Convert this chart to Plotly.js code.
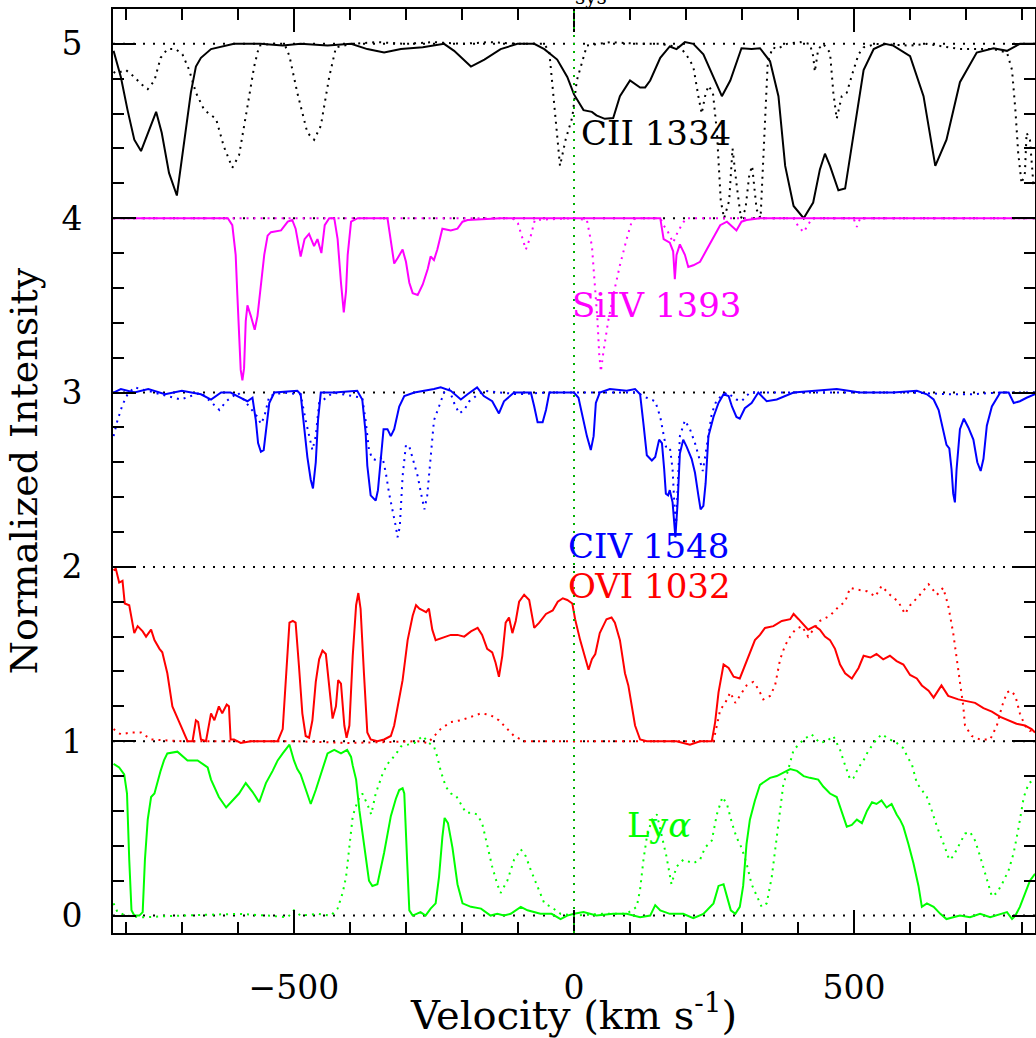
<!DOCTYPE html>
<html>
<head>
<meta charset="utf-8">
<script src="https://cdn.plot.ly/plotly-3.0.1.min.js"></script>
<style>
  html, body { margin: 0; padding: 0; background: #ffffff; }
  #chart { width: 1036px; height: 1038px; }
</style>
</head>
<body>
<div id="chart"></div>
<script>
// ---------------- data (velocity in km/s, normalized intensity as plotted, with offsets) ----------------
const velocity_CII = [-822,-809,-797,-785,-773,-760,-746,-736,-723,-709,-696,-684,-675,-666,-648,-630,-607,-560,-520,-488,-440,-398,-369,-339,-309,-270,-232,-214,-200,-184,-172,-160,-131,-101,-71,-53,-30,-12,0,17,32,40,55,70,82,100,118,127,136,154,171,183,198,213,231,249,264,279,299,317,332,350,365,377,392,410,427,439,448,457,472,484,499,517,535,555,570,600,624,645,665,689,719,749,773,796,823];
const intensity_CII = [4.96,4.81,4.62,4.45,4.385,4.49,4.61,4.49,4.26,4.13,4.45,4.72,4.87,4.92,4.97,4.985,5.0,5.0,4.99,5.0,4.99,5.0,4.97,4.95,4.97,4.98,5.0,4.96,4.92,4.87,4.89,4.91,4.97,5.0,5.0,4.97,4.91,4.81,4.71,4.62,4.61,4.59,4.57,4.575,4.70,4.79,4.75,4.75,4.79,4.92,4.985,4.97,5.01,5.0,4.94,4.81,4.70,4.79,4.975,4.97,4.975,4.90,4.70,4.30,4.07,4.0,4.09,4.28,4.37,4.30,4.16,4.17,4.49,4.85,4.97,5.0,4.99,4.93,4.70,4.30,4.45,4.78,4.95,4.975,4.96,5.0,5.0];

const velocity_CII_comparison = [-822,-818,-800,-785,-773,-761,-749,-738,-726,-711,-699,-687,-675,-660,-639,-625,-610,-598,-583,-571,-562,-540,-517,-508,-494,-476,-464,-452,-437,-425,-398,-350,-300,-250,-200,-150,-100,-53,-44,-36,-25,-15,-3,5,23,64,120,154,190,202,213,222,228,234,240,248,255,262,268,277,283,290,298,306,313,318,326,333,340,346,355,362,380,404,421,427,430,436,445,457,463,469,478,487,499,508,517,540,600,630,689,749,773,782,788,793,799,805,808,814,820,823];
const intensity_CII_comparison = [4.84,4.83,4.85,4.81,4.77,4.74,4.79,4.92,4.97,4.97,4.94,4.85,4.72,4.62,4.57,4.41,4.29,4.36,4.64,4.87,4.99,5.0,5.0,4.93,4.72,4.49,4.45,4.53,4.81,4.98,5.0,5.01,5.0,5.01,5.0,5.01,5.0,5.0,4.95,4.68,4.30,4.45,4.58,4.79,4.99,5.01,5.0,5.0,4.98,4.93,4.87,4.70,4.60,4.70,4.76,4.72,4.50,4.10,4.0,4.10,4.40,4.20,4.0,4.05,4.25,4.30,4.05,4.0,4.50,4.90,4.98,4.97,5.0,5.01,5.0,4.93,4.84,4.97,5.0,4.95,4.72,4.57,4.70,4.72,4.85,4.94,4.98,5.0,4.99,5.0,4.97,4.97,4.95,4.85,4.62,4.375,4.20,4.26,4.49,4.45,4.20,4.20];

const velocity_SiIV = [-822,-700,-618,-610,-604,-601,-598,-595,-592,-589,-586,-583,-577,-570,-565,-559,-553,-547,-541,-523,-511,-503,-497,-488,-481,-473,-464,-458,-451,-445,-437,-428,-422,-416,-411,-407,-404,-398,-386,-333,-327,-321,-315,-306,-300,-294,-288,-279,-270,-261,-256,-250,-244,-235,-220,-208,-199,-190,-131,0,154,160,171,177,180,183,189,198,204,213,225,237,249,261,273,284,290,299,308,332,823];
const intensity_SiIV = [4.0,4.0,4.0,3.96,3.79,3.56,3.29,3.13,3.07,3.14,3.41,3.50,3.44,3.36,3.44,3.60,3.79,3.90,3.92,3.93,3.98,3.99,3.94,3.78,3.88,3.91,3.84,3.88,3.80,3.96,4.0,4.0,3.88,3.63,3.46,3.58,3.79,3.98,4.0,4.0,3.88,3.74,3.77,3.82,3.75,3.63,3.57,3.56,3.62,3.71,3.78,3.76,3.82,3.94,3.93,3.94,3.98,3.99,4.0,4.0,4.0,3.88,3.86,3.81,3.65,3.79,3.85,3.79,3.72,3.73,3.75,3.82,3.89,3.96,3.98,3.95,3.93,3.98,3.99,4.0,4.0];

const velocity_SiIV_comparison = [-822,-110,-100,-92,-86,-77,-70,0,23,32,37,42,45,48,52,61,73,82,94,103,110,154,160,168,177,185,192,200,392,401,410,418,425,499,505,511,823];
const intensity_SiIV_comparison = [4.0,4.0,3.97,3.88,3.82,3.90,3.99,4.0,3.99,3.84,3.63,3.41,3.22,3.12,3.22,3.41,3.60,3.73,3.88,3.98,4.0,4.0,3.96,3.92,3.86,3.92,3.96,4.0,4.0,3.95,3.92,3.96,4.0,4.0,3.95,4.0,4.0];

const velocity_CIV = [-822,-809,-785,-760,-730,-700,-666,-648,-630,-613,-601,-583,-574,-568,-564,-559,-554,-550,-544,-535,-494,-488,-482,-476,-470,-466,-461,-457,-452,-428,-387,-378,-372,-369,-363,-354,-350,-345,-340,-333,-327,-321,-312,-303,-285,-250,-238,-220,-202,-190,-173,-161,-146,-134,-125,-107,-77,-71,-65,-56,-50,-44,-12,0,8,14,23,30,35,39,46,64,94,109,118,124,130,139,145,152,157,161,164,168,171,176,179,181,185,189,195,201,210,216,222,226,231,235,240,249,258,267,276,282,290,296,305,317,329,344,362,392,469,511,570,612,630,642,651,657,665,670,674,677,680,683,689,696,704,713,720,726,731,737,746,761,776,785,796,808,823];
const intensity_CIV = [3.0,3.02,3.0,3.02,2.99,3.01,2.99,2.96,3.0,3.0,2.98,2.95,2.97,2.84,2.71,2.66,2.67,2.79,2.94,3.0,3.01,2.99,2.82,2.63,2.50,2.45,2.60,2.84,3.0,3.0,3.01,2.96,2.77,2.58,2.41,2.38,2.44,2.61,2.79,2.79,2.75,2.79,2.92,2.98,3.0,3.02,3.03,3.01,2.96,2.99,3.03,2.98,2.95,2.88,2.95,3.0,3.0,2.92,2.83,2.83,2.90,3.0,3.0,3.0,2.97,2.88,2.75,2.67,2.75,2.94,3.0,3.02,3.01,3.02,2.99,2.82,2.64,2.61,2.63,2.73,2.71,2.56,2.42,2.41,2.44,2.37,2.22,2.17,2.37,2.65,2.73,2.69,2.62,2.54,2.41,2.33,2.35,2.48,2.75,2.86,2.94,2.99,2.98,2.92,2.86,2.85,2.91,2.94,3.0,2.95,2.96,3.0,3.02,3.0,3.0,3.01,2.99,2.96,2.90,2.81,2.70,2.68,2.56,2.42,2.37,2.56,2.79,2.85,2.80,2.73,2.60,2.55,2.62,2.81,2.92,3.0,3.0,2.94,2.95,2.97,2.99];

const velocity_CIV_comparison = [-822,-815,-806,-797,-785,-750,-702,-666,-633,-621,-600,-565,-559,-553,-544,-520,-488,-479,-473,-467,-461,-455,-430,-378,-372,-366,-360,-351,-342,-336,-330,-324,-318,-315,-311,-306,-300,-294,-288,-279,-273,-267,-262,-256,-250,-241,-232,-223,-214,-205,-196,-187,-175,-160,-131,-100,-50,0,112,130,145,154,160,164,171,176,179,182,185,189,198,207,216,225,230,234,240,246,255,273,290,299,314,400,600,674,707,760,823];
const intensity_CIV_comparison = [2.75,2.84,2.93,2.99,3.03,3.0,2.96,3.0,2.90,2.95,3.0,2.86,2.82,2.86,2.98,3.0,2.99,2.84,2.75,2.67,2.75,2.94,3.0,2.97,2.84,2.67,2.62,2.61,2.63,2.54,2.42,2.33,2.23,2.17,2.23,2.52,2.70,2.69,2.62,2.52,2.42,2.33,2.41,2.65,2.84,2.92,3.0,3.02,2.94,2.88,2.90,2.95,2.98,3.01,3.0,2.99,3.0,3.0,3.0,2.97,2.95,2.86,2.75,2.69,2.69,2.56,2.37,2.23,2.44,2.75,2.84,2.79,2.71,2.60,2.55,2.63,2.77,2.88,2.96,3.0,2.96,2.95,3.0,3.0,3.0,2.99,2.99,3.0,3.0];

const velocity_OVI = [-822,-818,-812,-806,-802,-794,-785,-779,-770,-764,-755,-749,-740,-735,-726,-717,-702,-690,-681,-675,-671,-666,-657,-648,-642,-634,-628,-620,-616,-613,-607,-595,-577,-547,-529,-520,-514,-508,-502,-497,-491,-485,-479,-473,-467,-461,-455,-449,-443,-437,-431,-425,-421,-416,-410,-406,-401,-395,-389,-385,-381,-375,-369,-363,-351,-339,-327,-321,-315,-306,-297,-288,-282,-276,-270,-264,-259,-253,-247,-238,-229,-220,-208,-196,-184,-172,-164,-155,-146,-140,-134,-128,-122,-116,-110,-104,-98,-89,-80,-71,-62,-50,-38,-29,-20,-12,-3,2,11,20,26,32,38,46,58,67,73,82,91,97,103,109,118,130,154,183,207,225,246,252,258,267,276,285,296,305,314,323,332,341,356,371,386,392,401,410,418,430,439,448,457,466,475,484,496,508,517,529,540,552,564,576,588,600,612,621,633,642,656,668,686,701,716,731,746,761,776,790,805,817,823];
const intensity_OVI = [1.98,1.99,1.91,1.92,1.79,1.78,1.62,1.66,1.63,1.60,1.64,1.58,1.53,1.51,1.39,1.20,1.09,1.0,1.0,1.12,1.11,1.01,1.0,1.16,1.12,1.20,1.16,1.21,1.20,1.01,1.01,0.99,1.0,1.0,1.0,1.07,1.39,1.68,1.69,1.68,1.43,1.16,1.03,1.02,1.12,1.34,1.47,1.52,1.50,1.30,1.13,1.20,1.35,1.33,1.09,1.02,1.09,1.49,1.78,1.85,1.76,1.39,1.05,1.01,1.0,1.01,1.03,1.09,1.20,1.35,1.58,1.72,1.78,1.76,1.75,1.74,1.76,1.64,1.58,1.59,1.60,1.61,1.61,1.60,1.63,1.65,1.61,1.53,1.51,1.45,1.37,1.49,1.68,1.71,1.62,1.69,1.80,1.84,1.81,1.65,1.68,1.73,1.75,1.80,1.82,1.81,1.79,1.70,1.58,1.47,1.41,1.47,1.50,1.62,1.70,1.71,1.68,1.58,1.39,1.32,1.20,1.09,1.01,1.0,1.0,1.0,0.98,1.0,1.0,1.11,1.28,1.44,1.42,1.37,1.36,1.43,1.51,1.58,1.61,1.65,1.66,1.69,1.70,1.73,1.70,1.67,1.64,1.66,1.64,1.60,1.58,1.53,1.44,1.39,1.36,1.42,1.49,1.48,1.50,1.47,1.49,1.46,1.44,1.38,1.36,1.32,1.29,1.25,1.32,1.26,1.24,1.23,1.22,1.19,1.17,1.14,1.12,1.10,1.09,1.07,1.05];

const velocity_OVI_comparison = [-822,-815,-809,-791,-773,-755,-700,-600,-500,-400,-300,-279,-261,-250,-238,-220,-202,-184,-166,-149,-134,-122,-107,-89,0,100,249,255,261,270,279,288,296,308,320,329,338,350,359,368,377,386,395,407,418,427,439,457,472,484,493,505,523,538,549,564,579,591,600,615,633,648,659,668,677,686,695,698,710,725,743,755,764,773,780,788,796,805,814,823];
const intensity_OVI_comparison = [1.07,1.05,1.04,1.05,1.05,1.01,1.0,1.0,1.0,0.99,1.0,1.0,0.99,1.03,1.07,1.11,1.12,1.14,1.16,1.15,1.12,1.08,1.03,1.0,1.0,1.0,1.0,1.09,1.18,1.22,1.28,1.22,1.26,1.32,1.34,1.30,1.24,1.26,1.32,1.47,1.55,1.60,1.64,1.66,1.60,1.64,1.69,1.72,1.77,1.80,1.88,1.87,1.86,1.83,1.89,1.84,1.80,1.73,1.78,1.83,1.90,1.84,1.88,1.78,1.62,1.41,1.20,1.09,1.03,1.01,1.01,1.09,1.20,1.28,1.29,1.26,1.16,1.09,1.06,1.07];

const velocity_Lya = [-822,-812,-803,-798,-794,-790,-785,-776,-770,-766,-761,-755,-749,-743,-738,-732,-726,-708,-690,-672,-654,-648,-634,-621,-610,-598,-586,-574,-562,-550,-538,-529,-520,-508,-500,-494,-488,-479,-470,-461,-452,-446,-440,-428,-416,-405,-398,-395,-389,-383,-375,-366,-360,-351,-339,-327,-318,-312,-306,-303,-298,-294,-288,-274,-265,-256,-247,-241,-235,-231,-225,-217,-208,-199,-184,-166,-149,-137,-125,-113,-95,-83,-60,-40,-24,-12,0,17,40,70,94,118,136,145,154,171,195,213,231,249,258,267,273,280,288,296,302,308,314,323,332,341,350,362,374,386,398,410,421,436,445,457,469,478,487,496,505,514,523,532,540,549,558,567,576,582,588,597,606,615,621,630,642,654,665,677,689,707,725,743,761,773,782,788,796,805,814,823];
const intensity_Lya = [0.87,0.85,0.81,0.70,0.32,0.03,0.0,0.0,0.02,0.32,0.55,0.68,0.70,0.78,0.83,0.89,0.93,0.94,0.89,0.89,0.85,0.78,0.68,0.62,0.66,0.70,0.76,0.71,0.65,0.76,0.83,0.89,0.93,0.98,0.89,0.84,0.81,0.72,0.64,0.72,0.81,0.87,0.93,0.95,0.93,0.95,0.91,0.86,0.78,0.60,0.41,0.20,0.17,0.18,0.36,0.57,0.67,0.72,0.73,0.70,0.32,0.03,0.0,0.02,0.0,0.04,0.07,0.22,0.45,0.56,0.53,0.39,0.18,0.07,0.05,0.04,0.0,0.01,0.0,0.01,0.05,0.03,0.01,0.01,-0.02,0.0,0.01,0.02,0.0,0.01,0.01,-0.01,0.0,0.06,0.03,0.01,0.01,-0.015,0.01,0.07,0.17,0.18,0.11,0.03,0.01,0.05,0.17,0.41,0.55,0.66,0.75,0.77,0.79,0.80,0.82,0.84,0.83,0.80,0.79,0.78,0.74,0.70,0.68,0.60,0.51,0.52,0.55,0.53,0.60,0.65,0.64,0.66,0.62,0.64,0.58,0.55,0.51,0.41,0.30,0.17,0.05,0.07,0.05,0.01,-0.02,-0.01,0.0,-0.01,0.01,-0.01,0.01,0.02,-0.02,0.0,0.05,0.13,0.20,0.24];

const velocity_Lya_comparison = [-822,-815,-800,-773,-700,-600,-547,-511,-500,-488,-458,-434,-422,-413,-407,-401,-395,-386,-378,-369,-362,-354,-342,-333,-327,-315,-309,-285,-270,-259,-250,-244,-238,-229,-220,-211,-202,-193,-181,-173,-164,-155,-146,-137,-131,-119,-107,-95,-86,-77,-65,-53,-41,-24,0,50,94,112,118,124,130,139,148,157,165,174,183,195,213,225,234,246,255,265,273,282,290,299,308,317,326,335,344,353,362,368,374,380,392,410,424,439,451,463,475,481,484,493,499,508,517,523,535,549,564,576,588,597,603,612,621,630,639,648,660,670,677,689,698,707,716,725,737,746,755,764,776,785,794,803,812,823];
const intensity_Lya_comparison = [0.07,0.02,0.0,-0.01,0.0,0.01,0.0,-0.01,0.03,0.0,0.01,0.0,0.04,0.13,0.22,0.41,0.57,0.66,0.70,0.64,0.58,0.70,0.81,0.87,0.89,0.94,0.97,0.99,1.03,0.99,0.97,0.91,0.83,0.74,0.70,0.69,0.64,0.59,0.59,0.58,0.53,0.41,0.28,0.18,0.13,0.20,0.32,0.38,0.34,0.26,0.17,0.07,0.05,0.01,0.0,0.01,0.01,0.05,0.15,0.32,0.45,0.55,0.58,0.45,0.34,0.18,0.28,0.32,0.30,0.32,0.39,0.43,0.58,0.68,0.64,0.53,0.45,0.39,0.30,0.18,0.11,0.05,0.07,0.22,0.45,0.62,0.76,0.81,0.95,1.01,1.04,0.99,1.0,1.03,0.95,0.89,0.86,0.78,0.79,0.85,0.89,0.93,0.99,1.04,1.01,0.99,0.96,0.90,0.87,0.76,0.72,0.68,0.60,0.51,0.41,0.32,0.34,0.41,0.47,0.48,0.43,0.34,0.20,0.11,0.13,0.18,0.26,0.36,0.51,0.68,0.76,0.78];

const continuumLevels = [0, 1, 2, 3, 4, 5];
const velocityRange = [-823, 823];
const systemicVelocity = 0;
const lineLabels = ['CII 1334', 'SiIV 1393', 'CIV 1548', 'OVI 1032', 'Ly<i>α</i>'];

// ---------------- styles ----------------
const FONT = 'DejaVu Serif';
const GREEN = '#00ff00';
const series = [
  {v: velocity_CII_comparison, f: intensity_CII_comparison, color: '#000000', dotted: true},
  {v: velocity_SiIV_comparison, f: intensity_SiIV_comparison, color: '#ff00ff', dotted: true},
  {v: velocity_CIV_comparison, f: intensity_CIV_comparison, color: '#0000ff', dotted: true},
  {v: velocity_OVI_comparison, f: intensity_OVI_comparison, color: '#ff0000', dotted: true},
  {v: velocity_Lya_comparison, f: intensity_Lya_comparison, color: GREEN, dotted: true},
  {v: velocity_CII, f: intensity_CII, color: '#000000', dotted: false},
  {v: velocity_SiIV, f: intensity_SiIV, color: '#ff00ff', dotted: false},
  {v: velocity_CIV, f: intensity_CIV, color: '#0000ff', dotted: false},
  {v: velocity_OVI, f: intensity_OVI, color: '#ff0000', dotted: false},
  {v: velocity_Lya, f: intensity_Lya, color: GREEN, dotted: false}
];

const traces = [];
continuumLevels.forEach(function (lev) {
  traces.push({
    x: velocityRange, y: [lev, lev], mode: 'lines', type: 'scatter',
    line: {color: '#000000', width: 2, dash: '2px,8px'}, hoverinfo: 'skip'
  });
});
series.forEach(function (s) {
  traces.push({
    x: s.v, y: s.f, mode: 'lines', type: 'scatter',
    line: {color: s.color, width: 2, dash: s.dotted ? '2px,5px' : 'solid'},
    hoverinfo: 'skip'
  });
});

const labelStyle = [
  {v: 11, y: 4.49, color: '#000000'},
  {v: -6, y: 3.50, color: '#ff00ff'},
  {v: -12, y: 2.12, color: '#0000ff'},
  {v: -12, y: 1.89, color: '#ff0000'},
  {v: 92, y: 0.52, color: GREEN}
];
const annotations = lineLabels.map(function (t, i) {
  return {
    x: labelStyle[i].v, y: labelStyle[i].y, xref: 'x', yref: 'y', text: t, showarrow: false,
    xanchor: 'left', yanchor: 'middle', borderpad: 0,
    font: {family: FONT, size: 34, color: labelStyle[i].color}
  };
});
annotations.push({
  x: 30, y: 1, xref: 'x', yref: 'paper', text: 'sys', showarrow: false,
  xanchor: 'center', yanchor: 'bottom', yshift: -2,
  font: {family: FONT, size: 20, color: '#000000'}
});

const axisCommon = {
  showline: true, linecolor: '#000000', linewidth: 2, mirror: 'ticks',
  ticks: 'inside', ticklen: 23, tickwidth: 2, tickcolor: '#000000',
  showgrid: false, zeroline: false,
  tickfont: {family: FONT, size: 33, color: '#000000'}
};

const layout = {
  width: 1036, height: 1038,
  margin: {l: 113, r: 1, t: 9, b: 105},
  paper_bgcolor: '#ffffff', plot_bgcolor: '#ffffff',
  showlegend: false,
  xaxis: Object.assign({}, axisCommon, {
    range: velocityRange, tick0: 0, dtick: 500, ticklabelstandoff: 24,
    minor: {dtick: 100, ticks: 'inside', ticklen: 11, tickwidth: 2, tickcolor: '#000000', showgrid: false},
    title: {text: 'Velocity (km s<sup>-1</sup>)', font: {family: FONT, size: 40, color: '#000000'}, standoff: 14}
  }),
  yaxis: Object.assign({}, axisCommon, {
    range: [-0.1, 5.2], tick0: 0, dtick: 1, ticklabelstandoff: 22,
    minor: {dtick: 0.2, ticks: 'inside', ticklen: 11, tickwidth: 2, tickcolor: '#000000', showgrid: false},
    title: {text: 'Normalized Intensity', font: {family: FONT, size: 38, color: '#000000'}, standoff: 12}
  }),
  shapes: [{
    type: 'line', xref: 'x', yref: 'paper', x0: systemicVelocity, x1: systemicVelocity, y0: 0, y1: 1,
    line: {color: '#00b000', width: 2, dash: '2px,6px'}, layer: 'above'
  }],
  annotations: annotations
};

Plotly.newPlot('chart', traces, layout, {displayModeBar: false, staticPlot: true});
</script>
</body>
</html>
